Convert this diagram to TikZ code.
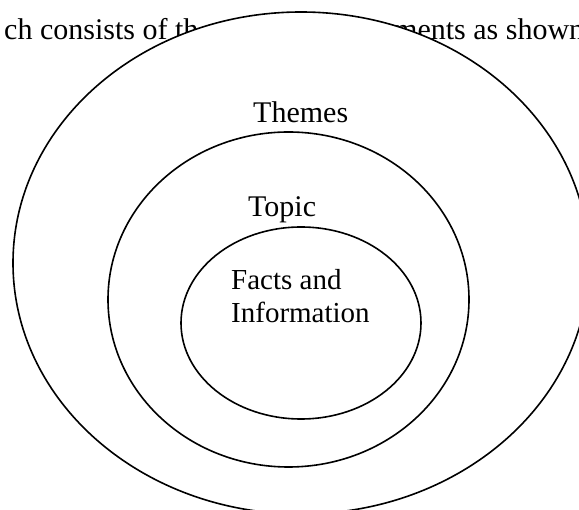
\documentclass[tikz,border=0pt]{standalone}
\usepackage{fontspec}
\setmainfont{Liberation Serif}
\usetikzlibrary{shapes.geometric}
\tikzset{
  ring/.style={ellipse, draw=black, fill=white, line width=1.6pt, inner sep=0pt},
  lbl/.style={inner sep=0pt, anchor=base west, font=\fontsize{30}{33}\selectfont},
  lblsmall/.style={inner sep=0pt, anchor=base west, font=\fontsize{29}{33}\selectfont},
}
\begin{document}
\begin{tikzpicture}[x=1pt,y=-1pt]
\useasboundingbox (0,0) rectangle (579,510);
\clip (0,0) rectangle (579,510);
\fill[white] (0,0) rectangle (579,510);
% running text behind the diagram
\node[lbl] (txtL) at (4,40) {ch consists of th};
\node[lbl] (txtR) at (394,40) {ments as shown};
% rings
\node[ring, minimum width=576pt, minimum height=502pt] (outer) at (301,263) {};
\node[ring, minimum width=361pt, minimum height=335pt] (middle) at (288.5,299.5) {};
\node[ring, minimum width=240pt, minimum height=192pt] (inner) at (301,323) {};
% labels
\node[lbl] (themes) at (253,123) {Themes};
\node[lbl] (topic) at (248,217) {Topic};
\node[lblsmall] (facts) at (231,290) {Facts and};
\node[lblsmall] (info) at (231,323) {Information};
\end{tikzpicture}
\end{document}
